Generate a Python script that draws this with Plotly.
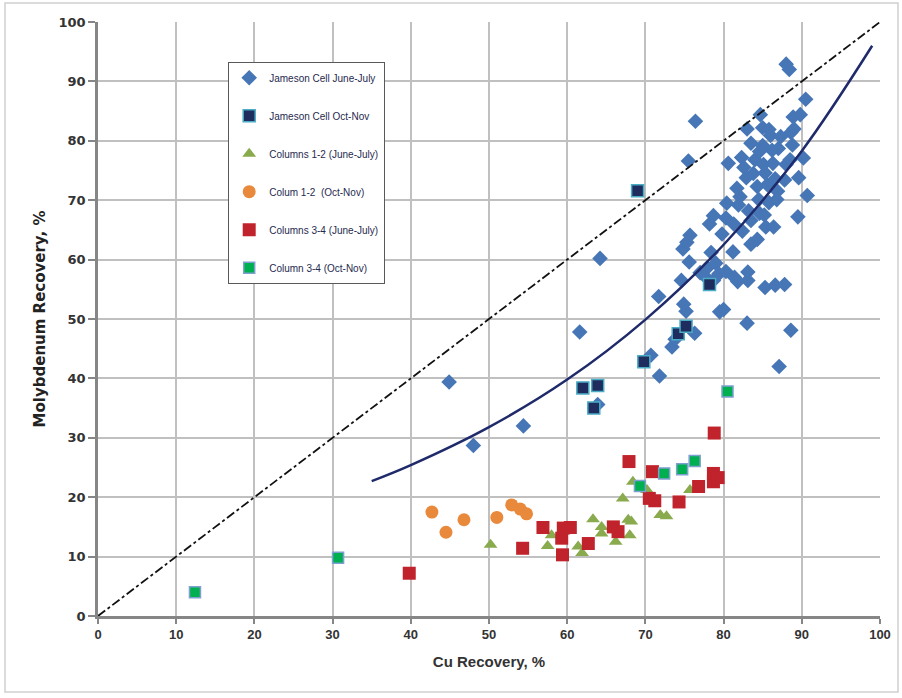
import plotly.graph_objects as go

# ---- data ----
jj_x = [44.9, 48.0, 54.4, 61.6, 64.2, 63.9, 71.7, 71.8, 70.7, 73.4, 73.8, 74.9, 75.2, 76.3, 74.6, 74.8, 75.3, 75.6, 75.7, 75.5,
        76.4, 77.0, 77.6, 77.9, 78.4, 78.7, 79.0, 79.4, 79.5, 80.0, 80.3, 79.8, 80.6, 81.2, 81.4, 81.8, 81.9, 82.1, 82.4, 82.3,
        83.0, 82.9, 83.2, 83.5, 83.5, 83.1, 83.1, 83.8, 84.0, 84.3, 84.5, 84.6, 84.3, 85.0, 85.0, 85.1, 85.3, 85.6, 85.8, 85.4,
        85.2, 86.0, 86.2, 86.3, 86.6, 86.9, 86.4, 86.8, 87.0, 87.3, 87.8, 88.0, 88.5, 88.8, 89.0, 84.7, 85.8, 78.2, 78.7, 80.3,
        81.3, 82.6, 83.5, 84.6, 83.0, 85.3, 86.6, 87.8, 87.1, 88.6, 88.0, 88.4, 89.5, 90.7, 89.6, 90.2, 88.6, 88.9, 89.8, 90.5,
        81.7, 80.4]
jj_y = [39.4, 28.7, 32.0, 47.8, 60.2, 35.6, 53.8, 40.4, 43.9, 45.3, 46.6, 52.5, 51.3, 47.6, 56.5, 61.8, 62.9, 59.6, 64.1, 76.6,
        83.3, 57.8, 57.2, 58.6, 61.2, 56.5, 59.4, 57.6, 51.2, 51.6, 58.0, 64.3, 76.2, 61.3, 57.0, 56.3, 69.2, 70.6, 64.8, 77.2,
        82.0, 73.8, 68.2, 66.6, 62.6, 56.5, 57.9, 74.5, 76.8, 72.3, 70.1, 67.8, 63.4, 82.2, 79.2, 76.0, 74.6, 72.6, 69.6, 65.5,
        67.5, 80.9, 78.4, 76.2, 73.6, 71.5, 65.5, 70.1, 78.7, 80.7, 73.4, 76.0, 76.8, 79.3, 82.0, 84.4, 81.9, 66.0, 67.4, 67.0,
        66.0, 75.5, 79.6, 78.2, 49.3, 55.3, 55.7, 55.8, 42.0, 48.1, 92.9, 92.0, 67.2, 70.8, 73.8, 77.1, 81.4, 84.0, 84.4, 87.0,
        72.0, 69.5]

jo_x = [69.0, 62.0, 63.9, 63.4, 69.8, 74.2, 75.2, 78.2]
jo_y = [71.6, 38.4, 38.8, 35.0, 42.8, 47.5, 48.8, 55.8]

c12j_x = [50.2, 57.5, 58.0, 61.4, 61.9, 63.3, 64.4, 64.4, 66.2, 67.1, 67.8, 68.2, 68.0, 68.4, 70.2, 71.9, 72.7, 75.7]
c12j_y = [12.0, 11.8, 13.6, 11.7, 10.6, 16.3, 15.0, 13.9, 12.5, 19.8, 16.2, 15.9, 13.6, 22.6, 21.2, 17.0, 16.8, 21.2]

c12o_x = [42.7, 44.5, 46.8, 51.0, 52.9, 54.0, 54.8]
c12o_y = [17.5, 14.1, 16.2, 16.6, 18.7, 18.0, 17.2]

c34j_x = [39.8, 54.3, 56.9, 59.4, 59.3, 59.5, 60.4, 62.7, 65.9, 66.5, 67.9, 70.5, 70.9, 71.2, 74.3, 76.8, 78.7, 78.7, 79.3, 78.8]
c34j_y = [7.2, 11.4, 14.9, 10.3, 13.1, 14.8, 14.9, 12.2, 15.0, 14.2, 26.0, 19.8, 24.3, 19.4, 19.2, 21.8, 22.6, 24.0, 23.3, 30.8]

c34o_x = [12.4, 30.7, 69.3, 72.4, 74.7, 76.3, 80.5]
c34o_y = [4.0, 9.8, 21.9, 24.0, 24.7, 26.1, 37.8]

trend_x = [35, 40, 50, 60, 70, 80, 90, 99]
trend_y = [22.7, 25.4, 31.8, 39.8, 49.9, 62.5, 78.3, 96.0]

ref_x = [0, 100]
ref_y = [0, 100]

x_ticks = [0, 10, 20, 30, 40, 50, 60, 70, 80, 90, 100]
y_ticks = [0, 10, 20, 30, 40, 50, 60, 70, 80, 90, 100]

# ---- figure ----
fig = go.Figure()

series = [
    ("Jameson Cell June-July", jj_x, jj_y, "diamond", 12, "#4676B6", "#4676B6", 0),
    ("Jameson Cell Oct-Nov", jo_x, jo_y, "square", 12, "#1F2D5E", "#4BACC6", 1.5),
    ("Columns 1-2 (June-July)", c12j_x, c12j_y, "triangle-up", 12, "#8AAA4E", "#8AAA4E", 0),
    ("Colum 1-2  (Oct-Nov)", c12o_x, c12o_y, "circle", 13, "#E8893C", "#E8893C", 0),
    ("Columns 3-4 (June-July)", c34j_x, c34j_y, "square", 13, "#C0232B", "#C0232B", 0),
    ("Column 3-4 (Oct-Nov)", c34o_x, c34o_y, "square", 11, "#00B050", "#7F9FD0", 1.5),
]
for i, (name, xs, ys, sym, size, fill, line, lw) in enumerate(series):
    fig.add_trace(go.Scatter(
        x=xs, y=ys, mode="markers", name=name, legendgroup=f"g{i}",
        marker=dict(symbol=sym, size=size, color=fill, line=dict(color=line, width=lw)),
    ))

fig.add_trace(go.Scatter(x=trend_x, y=trend_y, mode="lines", line=dict(color="#1F2A6B", width=2.5, shape="spline"),
                         showlegend=False, hoverinfo="skip"))
fig.add_trace(go.Scatter(x=ref_x, y=ref_y, mode="lines", line=dict(color="#111111", width=1.8, dash="dashdot"),
                         showlegend=False, hoverinfo="skip"))

# outer chart frame
fig.add_shape(type="rect", xref="paper", yref="paper",
              x0=-93 / 782, x1=(898 - 98) / 782, y0=-(692 - 616) / 594, y1=(616 - 3) / 594,
              line=dict(color="#D0D0D0", width=1.5), fillcolor="rgba(0,0,0,0)", layer="below")

fig.update_layout(
    width=902, height=698,
    margin=dict(l=98, r=22, t=22, b=82),
    paper_bgcolor="white", plot_bgcolor="white",
    showlegend=True,
    legend=dict(
        x=(228 - 98) / 782, y=(616 - 62) / 594, xanchor="left", yanchor="top",
        bgcolor="white", bordercolor="#595959", borderwidth=1.2,
        font=dict(family="Liberation Sans, Arial, sans-serif", size=10, color="#1F2A4F"),
        tracegroupgap=19, itemwidth=30,
    ),
    xaxis=dict(
        range=[0, 100], tickvals=x_ticks, ticktext=[str(v) for v in x_ticks],
        showgrid=True, gridcolor="#C0C0C0", gridwidth=1.5,
        showline=True, linecolor="#868686", linewidth=2.5, mirror=False,
        ticks="outside", ticklen=5, tickcolor="#868686", tickwidth=1.5,
        zeroline=False,
        tickfont=dict(family="Liberation Sans, Arial, sans-serif", size=13, color="#333333", weight="bold"),
        title=dict(text="Cu Recovery, %", standoff=16,
                   font=dict(family="Liberation Sans, Arial, sans-serif", size=15, color="#333333", weight="bold")),
    ),
    yaxis=dict(
        range=[0, 100], tickvals=y_ticks, ticktext=[str(v) for v in y_ticks],
        showgrid=True, gridcolor="#C0C0C0", gridwidth=1.5,
        showline=True, linecolor="#868686", linewidth=2.5, mirror=False,
        ticks="outside", ticklen=7, tickcolor="#868686", tickwidth=1.5,
        zeroline=False,
        tickfont=dict(family="DejaVu Sans, Verdana, sans-serif", size=13, color="#333333", weight="bold"),
        title=dict(text="Molybdenum Recovery, %", standoff=10,
                   font=dict(family="DejaVu Sans, Verdana, sans-serif", size=15, color="#222222", weight="bold")),
    ),
)

fig.write_html("out.html", config={"displayModeBar": False},
               post_script="document.body.style.margin='0';document.body.style.overflow='hidden';")
